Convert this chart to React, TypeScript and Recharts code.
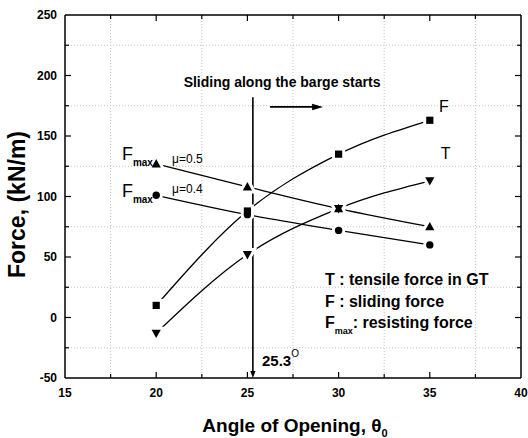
import React from 'react';
import { LineChart, Line, XAxis, YAxis, ReferenceLine, ReferenceDot } from 'recharts';

const angles = [20, 25, 30, 35];
const slidingForce = [10, 88, 135, 163];
const tensileForce = [-13, 52, 90, 113];
const resistingMu05 = [127, 108, 90, 75];
const resistingMu04 = [101, 85, 72, 60];

const xTicks = [15, 20, 25, 30, 35, 40];
const yTicks = [-50, 0, 50, 100, 150, 200, 250];
const xMinor = [17.5, 22.5, 27.5, 32.5, 37.5];
const yMinor = [-25, 25, 75, 125, 175, 225];
const xMajorInner = [20, 25, 30, 35];
const yMajorInner = [0, 50, 100, 150, 200];

const slidingStart = 25.3;

const data = angles.map((a, i) => ({
  angle: a,
  F: slidingForce[i],
  T: tensileForce[i],
  m5: resistingMu05[i],
  m4: resistingMu04[i],
}));

const FONT = '"Liberation Sans", Arial, Helvetica, sans-serif';

type MP = { cx: number; cy: number; halo: boolean };
const fillOf = (h: boolean) => (h ? '#fff' : '#000');
const strokeProps = (h: boolean) => (h ? { stroke: '#fff', strokeWidth: 6 } : { stroke: 'none' });

const Square = ({ cx, cy, halo }: MP) => {
  const s = 3.6;
  return <rect x={cx - s} y={cy - s} width={2 * s} height={2 * s} fill={fillOf(halo)} {...strokeProps(halo)} />;
};
const TriUp = ({ cx, cy, halo }: MP) => {
  const w = 4.6, h = 4.2;
  return <path d={`M${cx},${cy - h - 0.6} L${cx + w},${cy + h - 0.6} L${cx - w},${cy + h - 0.6} Z`} fill={fillOf(halo)} {...strokeProps(halo)} />;
};
const TriDown = ({ cx, cy, halo }: MP) => {
  const w = 4.6, h = 4.2;
  return <path d={`M${cx},${cy + h + 0.6} L${cx + w},${cy - h + 0.6} L${cx - w},${cy - h + 0.6} Z`} fill={fillOf(halo)} {...strokeProps(halo)} />;
};
const Circ = ({ cx, cy, halo }: MP) => <circle cx={cx} cy={cy} r={3.7} fill={fillOf(halo)} {...strokeProps(halo)} />;

const makeDot = (Shape: any, halo: boolean, name: string) => (p: any) => (
  <Shape key={`${name}-${halo ? 'h' : 'f'}-${p.index}`} cx={p.cx} cy={p.cy} halo={halo} />
);

const series = [
  { key: 'F', shape: Square },
  { key: 'T', shape: TriDown },
  { key: 'm5', shape: TriUp },
  { key: 'm4', shape: Circ },
];

const txt = (content: React.ReactNode, opts: any = {}) => (p: any) => (
  <text
    x={p.cx}
    y={p.cy}
    fontFamily={FONT}
    fontSize={opts.size ?? 16}
    fontWeight={opts.weight ?? 'bold'}
    textAnchor={opts.anchor ?? 'start'}
    fill="#000"
  >
    {content}
  </text>
);

const arrowShape = (dir: 'down' | 'right') => (p: any) => {
  const { x1, y1, x2, y2 } = p;
  if (dir === 'down') {
    const x = x1;
    const top = Math.min(y1, y2);
    const bot = Math.max(y1, y2);
    return (
      <g>
        <line x1={x} y1={top} x2={x} y2={bot - 4} stroke="#000" strokeWidth={1.6} />
        <path d={`M${x - 2.6},${bot - 7} L${x + 2.6},${bot - 7} L${x},${bot} Z`} fill="#000" />
      </g>
    );
  }
  const y = y1;
  const l = Math.min(x1, x2);
  const r = Math.max(x1, x2);
  return (
    <g>
      <line x1={l} y1={y} x2={r - 6} y2={y} stroke="#000" strokeWidth={1.8} />
      <path d={`M${r - 11},${y - 3.2} L${r - 11},${y + 3.2} L${r},${y} Z`} fill="#000" />
    </g>
  );
};

// vertical reference line → grid (optional) + inward ticks at top & bottom
const vTick = (len: number, grid: boolean) => (p: any) => {
  const x = p.x1;
  const top = Math.min(p.y1, p.y2);
  const bot = Math.max(p.y1, p.y2);
  return (
    <g>
      {grid && <line x1={x} y1={top} x2={x} y2={bot} stroke="#c4c4c4" strokeDasharray="1 2" strokeWidth={1} />}
      <line x1={x} y1={top} x2={x} y2={top + len} stroke="#000" strokeWidth={1.2} />
      <line x1={x} y1={bot - len} x2={x} y2={bot} stroke="#000" strokeWidth={1.2} />
    </g>
  );
};
const hTick = (len: number, grid: boolean) => (p: any) => {
  const y = p.y1;
  const l = Math.min(p.x1, p.x2);
  const r = Math.max(p.x1, p.x2);
  return (
    <g>
      {grid && <line x1={l} y1={y} x2={r} y2={y} stroke="#c4c4c4" strokeDasharray="1 2" strokeWidth={1} />}
      <line x1={l} y1={y} x2={l + len} y2={y} stroke="#000" strokeWidth={1.2} />
      <line x1={r - len} y1={y} x2={r} y2={y} stroke="#000" strokeWidth={1.2} />
    </g>
  );
};

const xTitle = (props: any) => {
  const vb = props.viewBox;
  return (
    <text x={vb.x + vb.width / 2 + 2} y={vb.y + 54} textAnchor="middle" fontFamily={FONT} fontSize={19} fontWeight="bold" fill="#000">
      Angle of Opening, θ
      <tspan fontSize={11} dy={5}>0</tspan>
    </text>
  );
};

const yTitle = (props: any) => {
  const vb = props.viewBox;
  const cx = 25;
  const cy = vb.y + vb.height / 2 + 8;
  return (
    <text x={cx} y={cy} transform={`rotate(-90 ${cx} ${cy})`} textAnchor="middle" fontFamily={FONT} fontSize={23} fontWeight="bold" fill="#000">
      Force, (kN/m)
    </text>
  );
};

const tickStyle = { fontSize: 12, fontWeight: 'bold', fill: '#000', fontFamily: FONT } as any;
const axisStroke = { stroke: '#000', strokeWidth: 1.5 };

export default function App() {
  return (
    <div style={{ position: 'absolute', left: 0, top: 0, width: 528, height: 438, background: '#fff' }}>
      <LineChart width={528} height={438} data={data} margin={{ top: 15, right: 7, bottom: 0, left: 0 }}>
        {xMinor.map((v) => (
          <ReferenceLine key={`gx${v}`} x={v} shape={vTick(4, true)} />
        ))}
        {yMinor.map((v) => (
          <ReferenceLine key={`gy${v}`} y={v} shape={hTick(4, true)} />
        ))}
        {xMajorInner.map((v) => (
          <ReferenceLine key={`mx${v}`} x={v} shape={vTick(6, false)} />
        ))}
        {yMajorInner.map((v) => (
          <ReferenceLine key={`my${v}`} y={v} shape={hTick(6, false)} />
        ))}
        <ReferenceLine x={40} stroke="#000" strokeWidth={1.5} />
        <ReferenceLine y={250} stroke="#000" strokeWidth={1.5} />

        <XAxis
          dataKey="angle"
          type="number"
          domain={[15, 40]}
          ticks={xTicks}
          tickLine={false}
          tickSize={0}
          tickMargin={10}
          axisLine={axisStroke}
          tick={tickStyle}
          height={60}
          label={xTitle}
          interval={0}
        />
        <YAxis
          type="number"
          domain={[-50, 250]}
          ticks={yTicks}
          tickLine={false}
          tickSize={0}
          tickMargin={8}
          axisLine={axisStroke}
          tick={tickStyle}
          width={65}
          label={yTitle}
          interval={0}
        />

        {series.map((s) => (
          <Line key={`l-${s.key}`} dataKey={s.key} type="monotone" stroke="#000" strokeWidth={1.3} dot={false} activeDot={false} isAnimationActive={false} legendType="none" />
        ))}
        {series.map((s) => (
          <Line key={`h-${s.key}`} dataKey={s.key} type="monotone" stroke="none" dot={makeDot(s.shape, true, s.key)} activeDot={false} isAnimationActive={false} legendType="none" />
        ))}
        {series.map((s) => (
          <Line key={`f-${s.key}`} dataKey={s.key} type="monotone" stroke="none" dot={makeDot(s.shape, false, s.key)} activeDot={false} isAnimationActive={false} legendType="none" />
        ))}

        <ReferenceLine segment={[{ x: slidingStart, y: 182 }, { x: slidingStart, y: -50 }]} shape={arrowShape('down')} />
        <ReferenceLine segment={[{ x: 26.24, y: 174 }, { x: 29.15, y: 174 }]} shape={arrowShape('right')} />

        <ReferenceDot x={26.9} y={190.5} r={0} shape={txt('Sliding along the barge starts', { size: 14, anchor: 'middle' })} />
        <ReferenceDot x={35.5} y={169.8} r={0} shape={txt('F', { size: 16, weight: 'normal' })} />
        <ReferenceDot x={35.6} y={131} r={0} shape={txt('T', { size: 16, weight: 'normal' })} />
        <ReferenceDot x={18.12} y={130.2} r={0} shape={txt(<><tspan>F</tspan><tspan fontSize={10} fontWeight="bold" dy={6}>max</tspan></>, { size: 18, weight: 'normal' })} />
        <ReferenceDot x={20.87} y={127.7} r={0} shape={txt('μ=0.5', { size: 12, weight: 'normal' })} />
        <ReferenceDot x={18.12} y={99.6} r={0} shape={txt(<><tspan>F</tspan><tspan fontSize={10} fontWeight="bold" dy={6}>max</tspan></>, { size: 18, weight: 'normal' })} />
        <ReferenceDot x={20.87} y={102.9} r={0} shape={txt('μ=0.4', { size: 12, weight: 'normal' })} />

        <ReferenceDot x={25.8} y={-40.1} r={0} shape={txt(<><tspan>25.3</tspan><tspan fontSize={10} fontWeight="normal" dy={-9}>O</tspan></>, { size: 15 })} />

        <ReferenceDot x={29.25} y={26.9} r={0} shape={txt('T : tensile force in GT', { size: 16 })} />
        <ReferenceDot x={29.25} y={8.7} r={0} shape={txt('F : sliding force', { size: 16 })} />
        <ReferenceDot x={29.25} y={-8.7} r={0} shape={txt(<><tspan>F</tspan><tspan fontSize={9} dy={6}>max</tspan><tspan dy={-6}>: resisting force</tspan></>, { size: 16 })} />
      </LineChart>
    </div>
  );
}
